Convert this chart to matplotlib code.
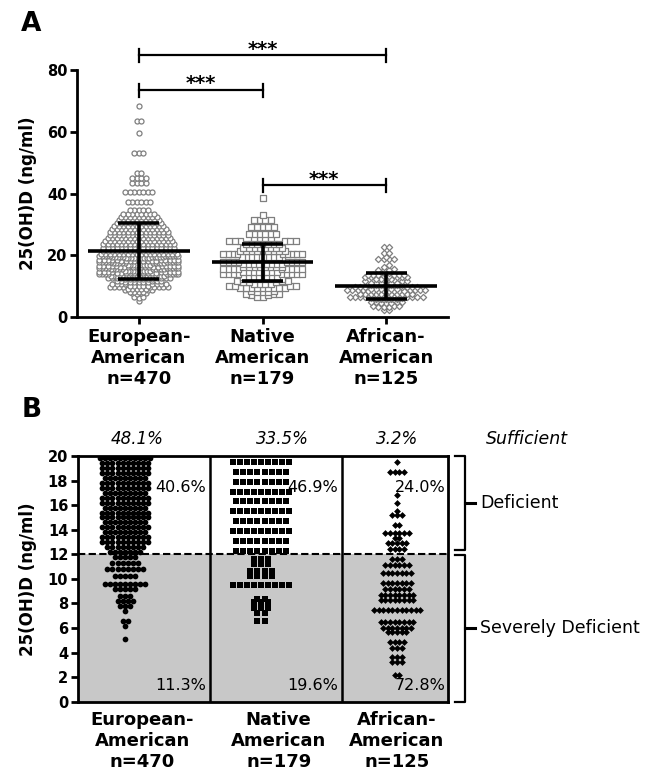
import numpy as np
import matplotlib
matplotlib.use("Agg")
import matplotlib.pyplot as plt

plt.rcParams['font.family'] = ['DejaVu Sans']

# ---------------- data ----------------
groups = ["European-\nAmerican\nn=470", "Native\nAmerican\nn=179", "African-\nAmerican\nn=125"]

eu_levels = [5.1, 6.2, 6.6, 7.4, 7.8, 8.2, 8.6, 9.2, 9.6, 10.2, 10.8, 11.3, 11.8,
             12.2, 12.6, 13.0, 13.4, 13.8, 14.2, 14.6, 15.0, 15.4, 15.8, 16.2, 16.6,
             17.0, 17.4, 17.8, 18.2, 18.6, 19.0, 19.4, 19.8,
             20.5, 21.5, 22.5, 23.5, 24.5, 25.5, 26.5, 27.5, 28.5, 29.5, 30.5, 31.5,
             32.5, 33.5, 34.5,
             37.2, 40.5, 43.4, 45.0, 46.6, 53.0, 59.5, 63.5, 68.3]
eu_counts = [1, 1, 2, 1, 3, 4, 3, 5, 9, 5, 8, 6, 5,
             7, 8, 10, 10, 9, 10, 9, 10, 10, 9, 10, 10,
             9, 10, 10, 9, 10, 10, 10, 11,
             18, 17, 17, 17, 16, 15, 14, 14, 13, 12, 11, 10,
             9, 8, 5,
             6, 7, 4, 4, 2, 3, 1, 2, 1]

na_levels = [6.6, 7.2, 7.6, 8.1, 8.4, 9.5, 10.2, 10.6, 11.2, 11.6,
             12.3, 13.1, 13.9, 14.7, 15.5, 16.3, 17.1, 17.9, 18.7, 19.5,
             20.5, 21.5, 22.5, 23.5, 24.5, 25.5, 27.0, 29.2, 31.4, 33.0, 38.5]
na_counts = [2, 2, 3, 3, 2, 9, 4, 4, 3, 3,
             8, 8, 9, 8, 9, 8, 9, 8, 8, 9,
             9, 9, 8, 7, 6, 4, 6, 5, 4, 1, 1]

aa_levels = [2.2, 3.2, 3.6, 4.4, 4.9, 5.7, 6.0, 6.5, 7.5, 8.3, 8.7, 9.2, 9.7, 10.5, 11.1, 11.6,
             12.4, 12.9, 13.3, 13.7, 14.4, 15.2, 15.5, 16.2, 16.8, 18.7, 19.5,
             20.7, 22.7]
aa_counts = [2, 3, 3, 3, 4, 5, 7, 8, 11, 8, 8, 6, 7, 7, 6, 3,
             4, 5, 2, 6, 2, 3, 1, 1, 1, 4, 1,
             2, 2]

means = [21.4, 17.8, 10.0]
sds = [9.1, 6.0, 4.3]

sig_pairs = [(0, 2), (0, 1), (1, 2)]
sig_labels = ["***", "***", "***"]

pct_sufficient = ["48.1%", "33.5%", "3.2%"]
pct_deficient = ["40.6%", "46.9%", "24.0%"]
pct_severe = ["11.3%", "19.6%", "72.8%"]
cutoffs = [12, 20]

# ---------------- helpers ----------------
def swarm(vals, bin_w, step, max_w):
    vals = np.asarray(vals, float)
    off = np.zeros_like(vals)
    keys = np.floor(vals / bin_w + 1e-9)
    for k in np.unique(keys):
        idx = np.where(keys == k)[0]
        idx = idx[np.argsort(vals[idx], kind='stable')]
        n = len(idx)
        w = min((n - 1) * step, max_w)
        slots = np.linspace(-w / 2, w / 2, n) if n > 1 else np.array([0.0])
        order = np.argsort(np.abs(slots) + 1e-6 * slots, kind='stable')
        off[idx] = slots[order]
    return off

data = [np.repeat(eu_levels, eu_counts),
        np.repeat(na_levels, na_counts),
        np.repeat(aa_levels, aa_counts)]
markers = ['o', 's', 'D']

W, H = 659, 773
fig = plt.figure(figsize=(W / 100, H / 100), dpi=100)

# ---------------- Panel A ----------------
axA = fig.add_axes([77 / W, 1 - 317 / H, 371 / W, 247 / H])
axA.set_xlim(-0.5, 2.5)
axA.set_ylim(0, 80)
A_bin = [1.0, 1.3, 1.0]
A_step = [0.036, 0.045, 0.042]
A_size = [13, 14, 10]
for i, vals in enumerate(data):
    off = swarm(vals, A_bin[i], A_step[i], 0.64)
    axA.scatter(i + off, vals, marker=markers[i], s=A_size[i], facecolors='white',
                edgecolors='#7f7f7f', linewidths=0.9, zorder=2)
for i, (m, s) in enumerate(zip(means, sds)):
    axA.hlines(m, i - 0.41, i + 0.41, colors='k', lw=2.6, zorder=4)
    axA.vlines(i, m - s, m + s, colors='k', lw=2.6, zorder=4)
    axA.hlines([m - s, m + s], i - 0.165, i + 0.165, colors='k', lw=2.6, zorder=4)

bracket_y = [84.8, 73.5, 42.7]
for (a, b), lab, yb in zip(sig_pairs, sig_labels, bracket_y):
    axA.plot([a, b], [yb, yb], color='k', lw=1.6, clip_on=False, zorder=5)
    for xx in (a, b):
        axA.plot([xx, xx], [yb - 2.1, yb + 2.1], color='k', lw=1.6, clip_on=False, zorder=5)
    axA.text((a + b) / 2, yb + 0.2, lab, ha='center', va='baseline', fontsize=14,
             fontweight='bold', clip_on=False)

for sp in ['top', 'right']:
    axA.spines[sp].set_visible(False)
for sp in ['left', 'bottom']:
    axA.spines[sp].set_linewidth(2)
axA.set_yticks([0, 20, 40, 60, 80])
axA.set_xticks([0, 1, 2])
axA.set_xticklabels(groups, fontsize=13, fontweight='bold', linespacing=1.2)
axA.tick_params(axis='both', direction='out', length=5, width=2, pad=2)
axA.tick_params(axis='x', pad=3)
for t in axA.get_yticklabels():
    t.set_fontweight('bold')
    t.set_fontsize(10.5)

fig.text(28 / W, 1 - 193 / H, "25(OH)D (ng/ml)", rotation=90, ha='center', va='center',
         fontsize=12, fontweight='bold')
fig.text(21 / W, 1 - 11 / H, "A", ha='left', va='top', fontsize=19, fontweight='bold')

# ---------------- Panel B ----------------
axB = fig.add_axes([78 / W, 1 - 701.7 / H, 370 / W, 245.7 / H])
axB.set_xlim(-0.346, 2.375)
axB.set_ylim(0, 20)
axB.axhspan(0, cutoffs[0], color='#c8c8c8', zorder=0, lw=0)
axB.axhline(cutoffs[0], color='k', lw=1.5, ls=(0, (3.5, 1.6)), zorder=3)
seps = [0.625, 1.596]
for sx in seps:
    axB.axvline(sx, color='k', lw=1.8, zorder=3)

B_step = [0.037, 0.052, 0.034]
B_size = [17, 19, 12]
for i, vals in enumerate(data):
    v = vals[vals <= cutoffs[1]]
    off = swarm(v, 0.001, B_step[i], 0.45)
    axB.scatter(i + off, v, marker=markers[i], s=B_size[i], color='k', lw=0, zorder=2)

for sp in axB.spines.values():
    sp.set_linewidth(2)
axB.set_yticks(np.arange(0, 21, 2))
axB.set_xticks([0.125, 1.13, 2.0])
axB.set_xticklabels(groups, fontsize=13, fontweight='bold', linespacing=1.2)
axB.tick_params(axis='x', length=0, pad=7)
axB.tick_params(axis='y', direction='out', length=5, width=2, pad=2)
for t in axB.get_yticklabels():
    t.set_fontweight('bold')
    t.set_fontsize(10.5)

top_x = [0.09, 1.16, 2.0]
right_x = [seps[0] - 0.03, seps[1] - 0.03, 2.375 - 0.02]
for i in range(3):
    axB.text(top_x[i], 21.4, pct_sufficient[i], ha='center', va='center', fontsize=12,
             fontstyle='italic', clip_on=False)
    axB.text(right_x[i], 17.4, pct_deficient[i], ha='right', va='center', fontsize=11.5,
             zorder=6)
    axB.text(right_x[i], 1.3, pct_severe[i], ha='right', va='center', fontsize=11.5,
             zorder=6)
axB.text(2.956, 21.4, "Sufficient", ha='center', va='center', fontsize=12.5,
         fontstyle='italic', clip_on=False)

# brackets on the right
for y0, y1, lab in [(cutoffs[1], cutoffs[0] + 0.35, "Deficient"),
                    (cutoffs[0] - 0.05, 0, "Severely Deficient")]:
    axB.plot([2.426, 2.5, 2.5, 2.426], [y0, y0, y1, y1], color='k', lw=1.6,
             clip_on=False)
    ym = (y0 + y1) / 2
    axB.plot([2.5, 2.574], [ym, ym], color='k', lw=2.2, clip_on=False)
    axB.text(2.61, ym, lab, ha='left', va='center', fontsize=12.5, clip_on=False)

fig.text(28 / W, 1 - 579 / H, "25(OH)D (ng/ml)", rotation=90, ha='center', va='center',
         fontsize=12, fontweight='bold')
fig.text(22 / W, 1 - 397 / H, "B", ha='left', va='top', fontsize=19, fontweight='bold')

fig.savefig("out.png", dpi=100)
